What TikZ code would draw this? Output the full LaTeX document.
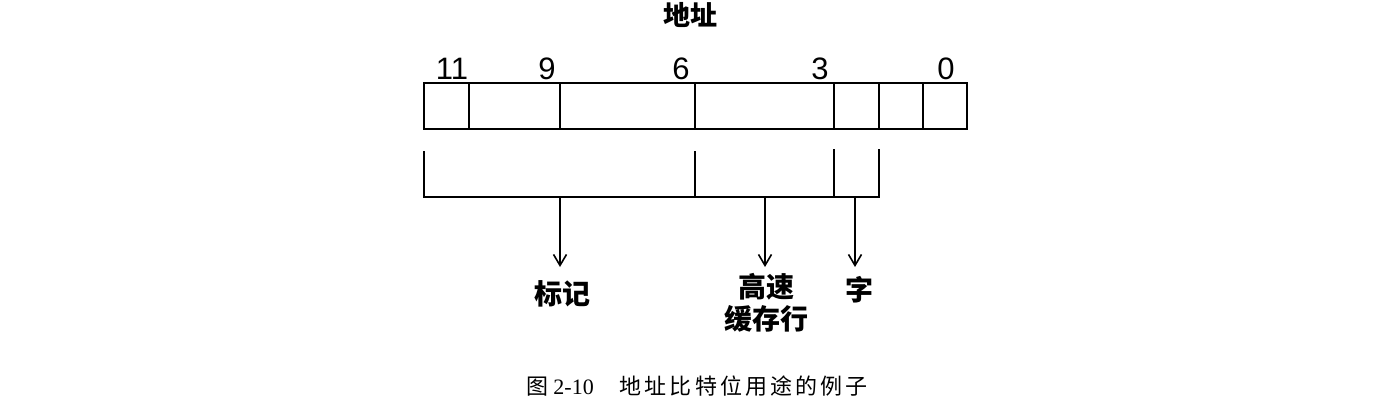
\documentclass[tikz,border=0pt]{standalone}
\usepackage{fontspec}
\setmainfont{Liberation Sans}
\newfontfamily\cjk{Noto Sans CJK SC}
\newfontfamily\capcjk[LetterSpace=14]{Noto Sans CJK SC}
\newfontfamily\capserif{Liberation Serif}
\usetikzlibrary{arrows.meta}

\begin{document}
\begin{tikzpicture}[x=1pt, y=-1pt, line width=1.6pt,
cellbox/.style={rectangle, draw, inner sep=0pt, minimum height=46pt},
bitnum/.style={font=\fontsize{31}{31}\selectfont, anchor=base},
usage/.style={font=\cjk\bfseries\fontsize{28}{32}\selectfont, align=center},
]
\useasboundingbox (0,0) rectangle (1398,408);

%Title
\node[font=\cjk\bfseries\fontsize{27}{27}\selectfont] (title) at (690,15) {地址};

%Bit numbers
\node[bitnum] (n11) at (452,79) {11};
\node[bitnum] (n9)  at (547,79) {9};
\node[bitnum] (n6)  at (681,79) {6};
\node[bitnum] (n3)  at (820,79) {3};
\node[bitnum] (n0)  at (946,79) {0};

%Address cells
\node[cellbox, minimum width=45pt]  (b11) at (446.5,106) {};
\node[cellbox, minimum width=91pt]  (b10) at (514.5,106) {};
\node[cellbox, minimum width=135pt] (b8)  at (627.5,106) {};
\node[cellbox, minimum width=139pt] (b5)  at (764.5,106) {};
\node[cellbox, minimum width=45pt]  (b2)  at (856.5,106) {};
\node[cellbox, minimum width=44pt]  (b1)  at (901,106) {};
\node[cellbox, minimum width=44pt]  (b0)  at (945,106) {};

%Bracket
\draw (424,151) -- (424,197) -- (879,197) -- (879,149);
\draw (695,151) -- (695,197);
\draw (834,149) -- (834,197);

%Arrows
\coordinate (tagout)  at (560,197);
\coordinate (lineout) at (765,197);
\coordinate (wordout) at (855,197);
\coordinate (tagin)  at (560,267);
\coordinate (linein) at (765,267);
\coordinate (wordin) at (855,267);

\draw[-{Straight Barb[length=11pt,width=13pt]}] (tagout) -- (tagin);
\draw[-{Straight Barb[length=11pt,width=13pt]}] (lineout) -- (linein);
\draw[-{Straight Barb[length=11pt,width=13pt]}] (wordout) -- (wordin);

%Labels
\node[usage] (tag)  at (562,294) {标记};
\node[usage] (line) at (766,303) {高速\\缓存行};
\node[usage] (word) at (859,290) {字};

%Caption
\node[font=\fontsize{22}{22}\selectfont] (cap) at (697,386)
  {\capcjk 图\hspace{5pt}\capserif 2-10\hspace{26pt}\capcjk 地址比特位用途的例子};

\end{tikzpicture}
\end{document}
